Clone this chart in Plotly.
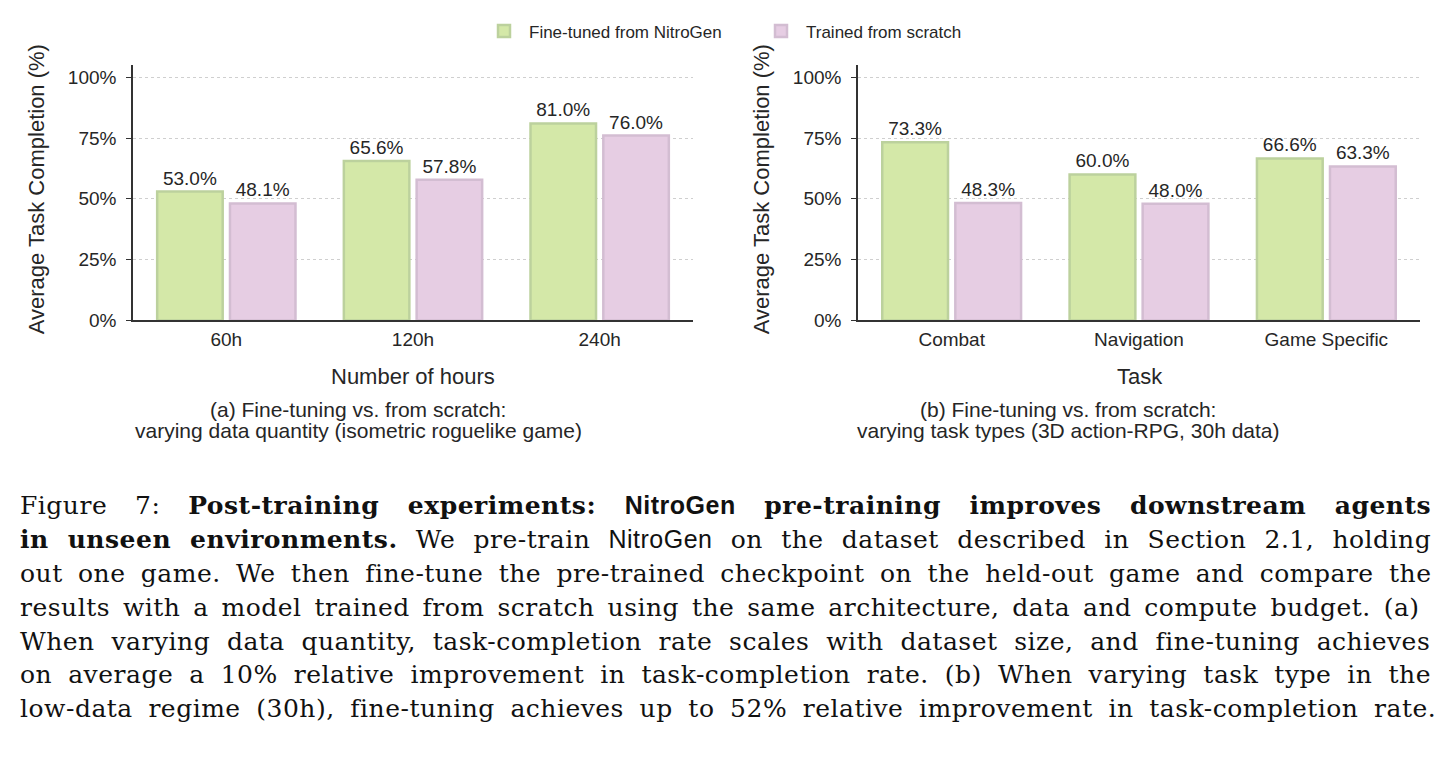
import plotly.graph_objects as go

# ---------------- data ----------------
hours_cats = ["60h", "120h", "240h"]
hours_finetuned = [53.0, 65.6, 81.0]
hours_scratch = [48.1, 57.8, 76.0]

task_cats = ["Combat", "Navigation", "Game Specific"]
task_finetuned = [73.3, 60.0, 66.6]
task_scratch = [48.3, 48.0, 63.3]

y_ticks = [0, 25, 50, 75, 100]
y_ticktext = ["0%", "25%", "50%", "75%", "100%"]

series_names = ["Fine-tuned from NitroGen", "Trained from scratch"]

NG = "<span style='font-family:Liberation Sans'>NitroGen</span>"
caption_lines = [
    f"Figure 7: <b>Post-training experiments: {NG} pre-training improves downstream agents</b>",
    f"<b>in unseen environments.</b> We pre-train {NG} on the dataset described in Section 2.1, holding",
    "out one game. We then fine-tune the pre-trained checkpoint on the held-out game and compare the",
    "results with a model trained from scratch using the same architecture, data and compute budget. (a)",
    "When varying data quantity, task-completion rate scales with dataset size, and fine-tuning achieves",
    "on average a 10% relative improvement in task-completion rate. (b) When varying task type in the",
    "low-data regime (30h), fine-tuning achieves up to 52% relative improvement in task-completion rate.",
]
# extra inter-word spacing (px) to justify each caption line
caption_word_spacing = [19.4, 9.8, 6.9, 4.4, 8.3, 7.6, 7.2]

# ---------------- style ----------------
W, H = 1449, 779
GREEN, GREEN_EDGE = "#d4e8a8", "#bcd19d"
PINK, PINK_EDGE = "#e6cde3", "#d3bdd2"
AX = "#333333"
TXT = "#262626"
SANS = "Liberation Sans, Arial, sans-serif"
SERIF = "DejaVu Serif, serif"


def px_x(x):
    return x / W


def px_y(y):
    return 1 - y / H


fig = go.Figure()

for xa, ya, cats, ft, sc, show in [
    ("x", "y", hours_cats, hours_finetuned, hours_scratch, True),
    ("x2", "y2", task_cats, task_finetuned, task_scratch, False),
]:
    fig.add_trace(go.Bar(
        x=cats, y=ft, name=series_names[0], xaxis=xa, yaxis=ya,
        marker=dict(color=GREEN, line=dict(color=GREEN_EDGE, width=2.5)),
        text=[f"{v:.1f}%" for v in ft], textposition="outside",
        textfont=dict(family=SANS, size=19, color=TXT),
        cliponaxis=False, showlegend=show, legendgroup="ft",
    ))
    fig.add_trace(go.Bar(
        x=cats, y=sc, name=series_names[1], xaxis=xa, yaxis=ya,
        marker=dict(color=PINK, line=dict(color=PINK_EDGE, width=2.5)),
        text=[f"{v:.1f}%" for v in sc], textposition="outside",
        textfont=dict(family=SANS, size=19, color=TXT),
        cliponaxis=False, showlegend=show, legendgroup="sc",
    ))

yaxis_common = dict(
    range=[0, 105], tickvals=y_ticks, ticktext=y_ticktext,
    showline=True, linecolor=AX, linewidth=1.5,
    ticks="outside", ticklen=5, tickcolor=AX, tickwidth=1.3,
    ticklabelstandoff=6,
    showgrid=True, gridcolor="#cfcfcf", griddash="dot", gridwidth=1,
    zeroline=False, tickfont=dict(family=SANS, size=19, color=TXT),
    fixedrange=True,
)
xaxis_common = dict(
    showline=True, linecolor=AX, linewidth=1.5,
    ticks="", showgrid=False, zeroline=False,
    tickfont=dict(family=SANS, size=19, color=TXT),
    ticklabelstandoff=1,
    range=[-0.5, 2.5],
)

y_dom = [px_y(325), px_y(66)]
fig.update_layout(
    width=W, height=H, autosize=False,
    margin=dict(l=0, r=0, t=0, b=0),
    paper_bgcolor="white", plot_bgcolor="white",
    barmode="group", bargap=0.22, bargroupgap=0.1,
    xaxis=dict(domain=[px_x(133), px_x(693)], anchor="y", **xaxis_common),
    yaxis=dict(domain=y_dom, anchor="x", **yaxis_common),
    xaxis2=dict(domain=[px_x(858), px_x(1420)], anchor="y2", **xaxis_common),
    yaxis2=dict(domain=y_dom, anchor="x2", **yaxis_common),
    legend=dict(
        orientation="h", x=px_x(756), xanchor="center", y=px_y(32), yanchor="middle",
        font=dict(family=SANS, size=17, color=TXT),
        itemwidth=40, entrywidth=222,
        bgcolor="rgba(0,0,0,0)",
    ),
    font=dict(family=SANS, color=TXT),
)

ann = []


def add_text(x, y, text, size, **kw):
    d = dict(x=px_x(x), y=px_y(y), xref="paper", yref="paper", text=text,
             showarrow=False, font=dict(family=SANS, size=size, color=TXT),
             xanchor="center", yanchor="middle")
    d.update(kw)
    ann.append(d)


# y-axis titles
for x in (36, 761):
    add_text(x, 192, "Average Task Completion (%)", 22, textangle=-90)
# x-axis titles
add_text(413, 382, "Number of hours", 22)
add_text(1140, 382, "Task", 22)
# sub-captions
add_text(358, 415, "(a) Fine-tuning vs. from scratch:", 21)
add_text(358, 437, "varying data quantity (isometric roguelike game)", 21)
add_text(1068, 415, "(b) Fine-tuning vs. from scratch:", 21)
add_text(1068, 437, "varying task types (3D action-RPG, 30h data)", 21)

# figure caption (justified via word spacing)
for i, (line, ws) in enumerate(zip(caption_lines, caption_word_spacing)):
    ann.append(dict(x=px_x(18), y=px_y(513 + i * 34.3), xref="paper", yref="paper",
                    text=f"<span style='word-spacing:{ws}px;letter-spacing:0.5px'>{line}</span>",
                    showarrow=False,
                    font=dict(family=SERIF, size=25, color="#111"),
                    xanchor="left", yanchor="middle", align="left"))

fig.update_layout(annotations=ann)
fig.write_html("out.html")
